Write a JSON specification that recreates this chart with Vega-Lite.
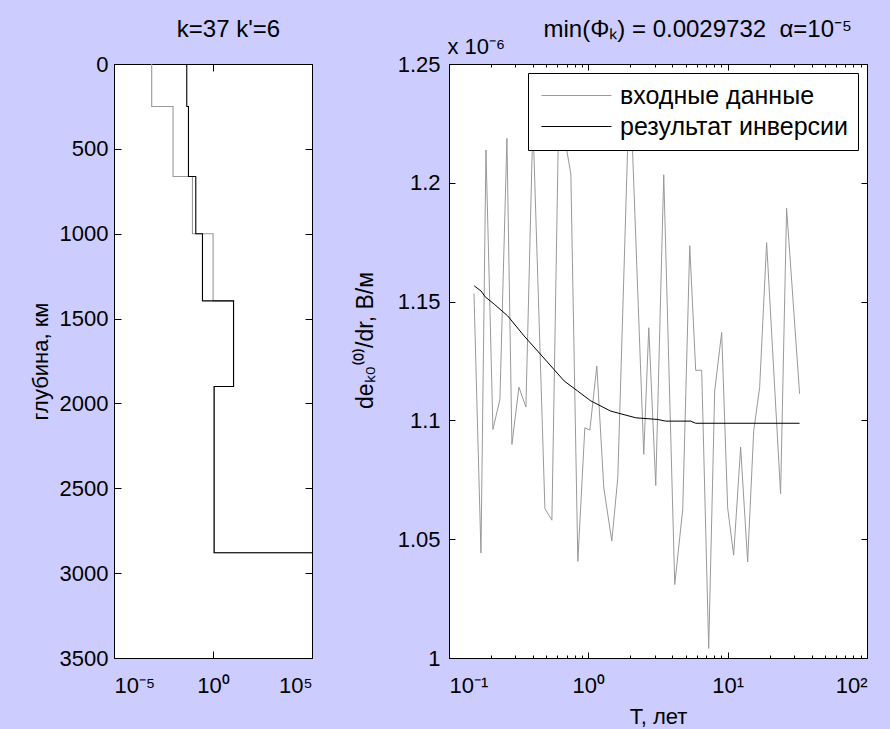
{
  "$schema": "https://vega.github.io/schema/vega-lite/v6.json",
  "background": "#CCCCFF",
  "padding": {"left": 28, "top": 16, "right": 26, "bottom": 10},
  "datasets": {
    "profile": [
      {"series": "входные данные", "ord": 1, "x": 0.0008, "depth": 0},
      {"series": "входные данные", "ord": 2, "x": 0.0008, "depth": 250},
      {"series": "входные данные", "ord": 3, "x": 0.0096, "depth": 250},
      {"series": "входные данные", "ord": 4, "x": 0.0096, "depth": 663},
      {"series": "входные данные", "ord": 5, "x": 0.0918, "depth": 663},
      {"series": "входные данные", "ord": 6, "x": 0.0918, "depth": 1000},
      {"series": "входные данные", "ord": 7, "x": 1.01, "depth": 1000},
      {"series": "входные данные", "ord": 8, "x": 1.01, "depth": 1396},
      {"series": "входные данные", "ord": 9, "x": 10.9, "depth": 1396},
      {"series": "входные данные", "ord": 10, "x": 10.9, "depth": 1900},
      {"series": "входные данные", "ord": 11, "x": 1.14, "depth": 1900},
      {"series": "входные данные", "ord": 12, "x": 1.14, "depth": 2880},
      {"series": "входные данные", "ord": 13, "x": 100000, "depth": 2880},
      {"series": "результат инверсии", "ord": 1, "x": 0.0473, "depth": 0},
      {"series": "результат инверсии", "ord": 2, "x": 0.0473, "depth": 250},
      {"series": "результат инверсии", "ord": 3, "x": 0.0577, "depth": 250},
      {"series": "результат инверсии", "ord": 4, "x": 0.0577, "depth": 663},
      {"series": "результат инверсии", "ord": 5, "x": 0.135, "depth": 663},
      {"series": "результат инверсии", "ord": 6, "x": 0.135, "depth": 1000},
      {"series": "результат инверсии", "ord": 7, "x": 0.294, "depth": 1000},
      {"series": "результат инверсии", "ord": 8, "x": 0.294, "depth": 1396},
      {"series": "результат инверсии", "ord": 9, "x": 10.9, "depth": 1396},
      {"series": "результат инверсии", "ord": 10, "x": 10.9, "depth": 1900},
      {"series": "результат инверсии", "ord": 11, "x": 1.14, "depth": 1900},
      {"series": "результат инверсии", "ord": 12, "x": 1.14, "depth": 2880},
      {"series": "результат инверсии", "ord": 13, "x": 100000, "depth": 2880}
    ],
    "series": [
      {"series": "входные данные", "T": 0.1511, "v": 1.1534},
      {"series": "входные данные", "T": 0.1696, "v": 1.0442},
      {"series": "входные данные", "T": 0.1842, "v": 1.2138},
      {"series": "входные данные", "T": 0.2067, "v": 1.0962},
      {"series": "входные данные", "T": 0.232, "v": 1.1089},
      {"series": "входные данные", "T": 0.2604, "v": 1.2187},
      {"series": "входные данные", "T": 0.2829, "v": 1.0899},
      {"series": "входные данные", "T": 0.3175, "v": 1.114},
      {"series": "входные данные", "T": 0.3565, "v": 1.1056},
      {"series": "входные данные", "T": 0.4002, "v": 1.226},
      {"series": "входные данные", "T": 0.4879, "v": 1.0629},
      {"series": "входные данные", "T": 0.5476, "v": 1.058},
      {"series": "входные данные", "T": 0.6146, "v": 1.233},
      {"series": "входные данные", "T": 0.749, "v": 1.2037},
      {"series": "входные данные", "T": 0.8408, "v": 1.0407},
      {"series": "входные данные", "T": 0.9438, "v": 1.0969},
      {"series": "входные данные", "T": 1.0252, "v": 1.0959},
      {"series": "входные данные", "T": 1.1506, "v": 1.1229},
      {"series": "входные данные", "T": 1.2915, "v": 1.0716},
      {"series": "входные данные", "T": 1.474, "v": 1.0492},
      {"series": "входные данные", "T": 1.627, "v": 1.0758},
      {"series": "входные данные", "T": 1.984, "v": 1.245},
      {"series": "входные данные", "T": 2.499, "v": 1.0857},
      {"series": "входные данные", "T": 2.715, "v": 1.139},
      {"series": "входные данные", "T": 3.047, "v": 1.0726},
      {"series": "входные данные", "T": 3.477, "v": 1.2034},
      {"series": "входные данные", "T": 4.17, "v": 1.0309},
      {"series": "входные данные", "T": 4.758, "v": 1.0625},
      {"series": "входные данные", "T": 5.342, "v": 1.1735},
      {"series": "входные данные", "T": 5.896, "v": 1.1211},
      {"series": "входные данные", "T": 6.511, "v": 1.1211},
      {"series": "входные данные", "T": 7.309, "v": 1.004},
      {"series": "входные данные", "T": 8.069, "v": 1.1124},
      {"series": "входные данные", "T": 9.058, "v": 1.137},
      {"series": "входные данные", "T": 10.0, "v": 1.0632},
      {"series": "входные данные", "T": 11.04, "v": 1.0433},
      {"series": "входные данные", "T": 12.39, "v": 1.0888},
      {"series": "входные данные", "T": 13.91, "v": 1.0404},
      {"series": "входные данные", "T": 15.37, "v": 1.0955},
      {"series": "входные данные", "T": 16.96, "v": 1.1138},
      {"series": "входные данные", "T": 19.04, "v": 1.1748},
      {"series": "входные данные", "T": 23.98, "v": 1.0691},
      {"series": "входные данные", "T": 26.48, "v": 1.1893},
      {"series": "входные данные", "T": 32.82, "v": 1.1112},
      {"series": "результат инверсии", "T": 0.1518, "v": 1.1566},
      {"series": "результат инверсии", "T": 0.1696, "v": 1.1545},
      {"series": "результат инверсии", "T": 0.182, "v": 1.152},
      {"series": "результат инверсии", "T": 0.2112, "v": 1.1489},
      {"series": "результат инверсии", "T": 0.2635, "v": 1.144},
      {"series": "результат инверсии", "T": 0.3466, "v": 1.1355},
      {"series": "результат инверсии", "T": 0.4323, "v": 1.1292},
      {"series": "результат инверсии", "T": 0.5385, "v": 1.1229},
      {"series": "результат инверсии", "T": 0.6707, "v": 1.1166},
      {"series": "результат инверсии", "T": 0.8367, "v": 1.1124},
      {"series": "результат инверсии", "T": 1.042, "v": 1.1082},
      {"series": "результат инверсии", "T": 1.45, "v": 1.1039},
      {"series": "результат инверсии", "T": 2.19, "v": 1.1011},
      {"series": "результат инверсии", "T": 3.134, "v": 1.1004},
      {"series": "результат инверсии", "T": 3.594, "v": 1.0997},
      {"series": "результат инверсии", "T": 5.43, "v": 1.0997},
      {"series": "результат инверсии", "T": 5.896, "v": 1.0988},
      {"series": "результат инверсии", "T": 32.82, "v": 1.0988}
    ]
  },
  "spacing": 137,
  "bounds": "flush",
  "resolve": {"scale": {"color": "independent"}, "legend": {"color": "independent"}},
  "hconcat": [
    {
      "width": 198,
      "height": 594,
      "data": {"name": "profile"},
      "resolve": {"axis": {"x": "independent", "y": "independent"}},
      "layer": [
        {
          "mark": {"type": "line", "strokeWidth": 1.1, "clip": true},
          "encoding": {
            "x": {"field": "x", "type": "quantitative",
              "scale": {"type": "log", "domain": [0.00001, 100000], "nice": false},
              "axis": {"orient": "bottom", "values": [0.00001, 1, 100000], "ticks": false, "labelPadding": 17, "title": null,
                "labelExpr": "datum.value < 0.001 ? '10⁻⁵' : datum.value > 1000 ? '10⁵' : '10⁰'"}},
            "y": {"field": "depth", "type": "quantitative",
              "scale": {"domain": [0, 3500], "reverse": true, "nice": false, "zero": false},
              "axis": {"orient": "left", "values": [0, 500, 1000, 1500, 2000, 2500, 3000, 3500], "format": "d", "ticks": false, "labelPadding": 6,
                "title": "глубина, км", "titleX": -74, "titleY": 297, "titleAngle": 270, "titleAlign": "center", "titleBaseline": "middle"}},
            "color": {"field": "series", "type": "nominal",
              "scale": {"domain": ["входные данные", "результат инверсии"], "range": ["#999999", "#000000"]}, "legend": null},
            "order": {"field": "ord", "type": "quantitative"}
          }
        },
        {
          "mark": {"type": "line", "strokeOpacity": 0},
          "encoding": {
            "x": {"field": "x", "type": "quantitative",
              "axis": {"orient": "bottom", "values": [0.00001, 1, 100000], "labels": false, "ticks": true, "tickSize": -7, "title": null}},
            "y": {"field": "depth", "type": "quantitative",
              "axis": {"orient": "left", "values": [0, 500, 1000, 1500, 2000, 2500, 3000, 3500], "labels": false, "ticks": true, "tickSize": -7, "title": null}},
            "detail": {"field": "series"},
            "order": {"field": "ord", "type": "quantitative"}
          }
        },
        {
          "mark": {"type": "line", "strokeOpacity": 0},
          "encoding": {
            "x": {"field": "x", "type": "quantitative",
              "axis": {"orient": "top", "values": [0.00001, 1, 100000], "labels": false, "ticks": true, "tickSize": -7,
                "title": "k=37 k'=6", "titleX": 114, "titleY": -28, "titleAlign": "center", "titleBaseline": "alphabetic", "titleFontSize": 24}},
            "y": {"field": "depth", "type": "quantitative",
              "axis": {"orient": "right", "values": [0, 500, 1000, 1500, 2000, 2500, 3000, 3500], "labels": false, "ticks": true, "tickSize": -7, "title": null}},
            "detail": {"field": "series"},
            "order": {"field": "ord", "type": "quantitative"}
          }
        }
      ]
    },
    {
      "width": 418,
      "height": 594,
      "data": {"name": "series"},
      "resolve": {"axis": {"x": "independent", "y": "independent"}},
      "layer": [
        {
          "mark": {"type": "line", "strokeWidth": 1, "clip": true},
          "encoding": {
            "x": {"field": "T", "type": "quantitative",
              "scale": {"type": "log", "domain": [0.1, 100], "nice": false},
              "axis": {"orient": "bottom", "values": [0.1, 1, 10, 100], "ticks": false, "labelPadding": 17,
                "labelExpr": "datum.value < 0.5 ? '10⁻¹' : datum.value < 5 ? '10⁰' : datum.value < 50 ? '10¹' : '10²'",
                "title": "T, лет", "titleX": 209, "titleY": 65, "titleAlign": "center", "titleBaseline": "alphabetic"}},
            "y": {"field": "v", "type": "quantitative",
              "scale": {"domain": [1, 1.25], "nice": false, "zero": false},
              "axis": {"orient": "left", "values": [1, 1.05, 1.1, 1.15, 1.2, 1.25], "format": ".3~g", "ticks": false, "labelPadding": 9,
                "title": "deₖ₀⁽⁰⁾/dr, В/м", "titleX": -84, "titleY": 276, "titleAngle": 270, "titleAlign": "center", "titleBaseline": "middle", "titleFontSize": 23}},
            "color": {"field": "series", "type": "nominal",
              "scale": {"domain": ["входные данные", "результат инверсии"], "range": ["#999999", "#000000"]},
              "legend": {"title": null, "orient": "top-right", "offset": 9, "fillColor": "white", "strokeColor": "black",
                "padding": 10, "symbolType": "M-5,0H5", "symbolSize": 196, "symbolStrokeWidth": 1, "symbolOffset": 26,
                "labelFont": "Liberation Sans", "labelFontSize": 25, "labelColor": "black", "labelOffset": 31, "labelLimit": 600,
                "rowPadding": 5, "cornerRadius": 0}}
          }
        },
        {
          "mark": {"type": "line", "strokeOpacity": 0},
          "encoding": {
            "x": {"field": "T", "type": "quantitative",
              "axis": {"orient": "bottom", "values": [0.1, 0.2, 0.3, 0.4, 0.5, 0.6, 0.7, 0.8, 0.9, 1, 2, 3, 4, 5, 6, 7, 8, 9, 10, 20, 30, 40, 50, 60, 70, 80, 90, 100],
                "labels": false, "ticks": true, "title": null,
                "tickSize": {"condition": {"test": "datum.value == 0.1 || datum.value == 1 || datum.value == 10 || datum.value == 100", "value": -6}, "value": -3}}},
            "y": {"field": "v", "type": "quantitative",
              "axis": {"orient": "left", "values": [1, 1.05, 1.1, 1.15, 1.2, 1.25], "labels": false, "ticks": true, "tickSize": -6, "title": null}}
          }
        },
        {
          "mark": {"type": "line", "strokeOpacity": 0},
          "encoding": {
            "x": {"field": "T", "type": "quantitative",
              "axis": {"orient": "top", "values": [0.1, 0.2, 0.3, 0.4, 0.5, 0.6, 0.7, 0.8, 0.9, 1, 2, 3, 4, 5, 6, 7, 8, 9, 10, 20, 30, 40, 50, 60, 70, 80, 90, 100],
                "labels": false, "ticks": true,
                "tickSize": {"condition": {"test": "datum.value == 0.1 || datum.value == 1 || datum.value == 10 || datum.value == 100", "value": -6}, "value": -3},
                "title": "x 10⁻⁶", "titleX": -2, "titleY": -11, "titleAlign": "left", "titleBaseline": "alphabetic", "titleFontSize": 22}},
            "y": {"field": "v", "type": "quantitative",
              "axis": {"orient": "right", "values": [1, 1.05, 1.1, 1.15, 1.2, 1.25], "labels": false, "ticks": true, "tickSize": -6, "title": null}}
          }
        },
        {
          "mark": {"type": "line", "strokeOpacity": 0},
          "encoding": {
            "x": {"field": "T", "type": "quantitative",
              "axis": {"orient": "top", "labels": false, "ticks": false,
                "title": "min(Φₖ) = 0.0029732 \u00a0α=10⁻⁵", "titleX": 94, "titleY": -28, "titleAlign": "left", "titleBaseline": "alphabetic", "titleFontSize": 24}},
            "y": {"field": "v", "type": "quantitative", "axis": null}
          }
        }
      ]
    }
  ],
  "config": {
    "font": "Liberation Sans",
    "view": {"stroke": "black", "strokeWidth": 1, "fill": "white"},
    "axis": {
      "domain": false, "grid": false,
      "labelFont": "Liberation Sans", "labelFontSize": 22, "labelColor": "black",
      "titleFont": "Liberation Sans", "titleFontSize": 22, "titleFontWeight": "normal", "titleColor": "black",
      "tickColor": "black", "tickWidth": 1
    }
  }
}
